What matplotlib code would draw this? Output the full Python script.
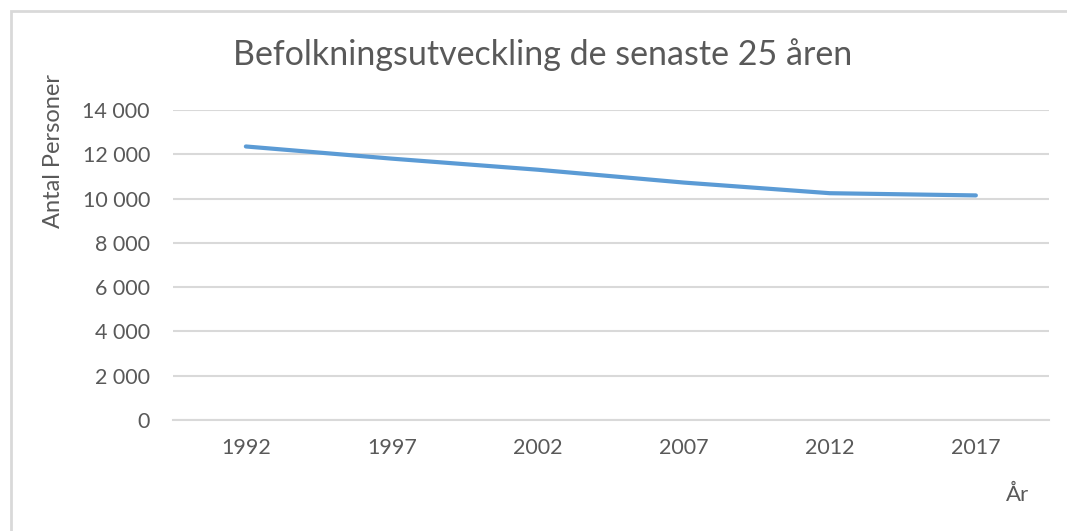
import matplotlib.pyplot as plt
from matplotlib.patches import Rectangle
from matplotlib.ticker import FuncFormatter

years = ["1992", "1997", "2002", "2007", "2012", "2017"]
population = [12350, 11800, 11300, 10720, 10240, 10140]
y_ticks = [0, 2000, 4000, 6000, 8000, 10000, 12000, 14000]

text_color = "#595959"
grid_color = "#D9D9D9"
line_color = "#5B9BD5"

plt.rcParams["font.family"] = ["Lato", "DejaVu Sans"]

fig = plt.figure(figsize=(10.67, 5.31), dpi=100)
ax = fig.add_axes([0.162, 0.209, 0.821, 0.584])

x = list(range(len(years)))
ax.plot(x, population, color=line_color, linewidth=3.0, solid_capstyle="round",
        solid_joinstyle="round")

ax.set_xlim(-0.5, len(years) - 0.5)
ax.set_ylim(0, 14000)
ax.set_yticks(y_ticks)
ax.yaxis.set_major_formatter(FuncFormatter(lambda v, _: f"{int(v):,}".replace(",", " ")))
ax.set_xticks(x)
ax.set_xticklabels(years)

ax.grid(axis="y", color=grid_color, linewidth=1.5)
ax.set_axisbelow(True)
for side in ["top", "right", "left"]:
    ax.spines[side].set_visible(False)
ax.spines["bottom"].set_color(grid_color)
ax.spines["bottom"].set_linewidth(1.5)
ax.tick_params(length=0, labelsize=15.5, colors=text_color)
ax.tick_params(axis="x", pad=13)
ax.tick_params(axis="y", pad=16.5)

fig.text(0.509, 0.897, "Befolkningsutveckling de senaste 25 åren", ha="center", va="center",
         fontsize=24.5, color=text_color)
fig.text(0.050, 0.715, "Antal Personer", rotation=90, ha="center", va="center",
         fontsize=17, color=text_color)
fig.text(0.954, 0.068, "År", ha="center", va="center", fontsize=16, color=text_color)

fig.patches.append(Rectangle((11 / 1067, -0.1), 1.2, 1 - 11 / 531 + 0.1, transform=fig.transFigure,
                             fill=False, edgecolor=grid_color, linewidth=2.0))

fig.savefig("out.png", dpi=100)
plt.close(fig)
